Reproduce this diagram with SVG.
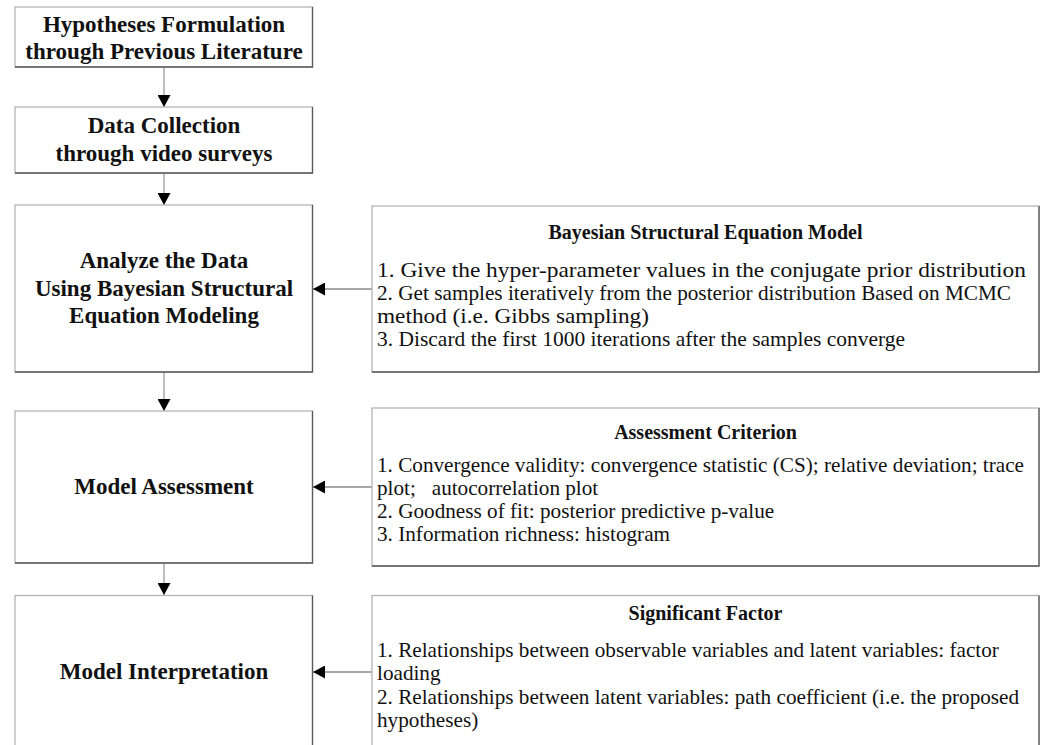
<svg xmlns="http://www.w3.org/2000/svg" width="1043" height="745" viewBox="0 0 1043 745">
<defs>
<style>
.box{fill:#fff;stroke:#b4b4b4;stroke-width:1.3}
.sh{fill:none;stroke:#5a5a5a;stroke-width:1.3}
.ttl{font-weight:bold;font-size:23px;fill:#111;text-anchor:middle}
.hd{font-weight:bold;font-size:20px;fill:#111;text-anchor:middle}
.it{font-size:21.2px;fill:#111}
.pal{font-size:21.5px;fill:#111}
.con{stroke:#a8a8a8;stroke-width:1.5;fill:none}
.conh{stroke:#8a8a8a;stroke-width:1.3;fill:none}
</style>
<marker id="ah" markerUnits="userSpaceOnUse" markerWidth="13" markerHeight="13" refX="12" refY="6.5" orient="auto">
<path d="M0,0 L12,6.5 L0,13 Z" fill="#000"/>
</marker>
</defs>
<rect width="1043" height="745" fill="#fff"/>
<g id="connectors">
<line class="con" x1="164" y1="67" x2="164" y2="107" marker-end="url(#ah)"/>
<line class="con" x1="164" y1="173" x2="164" y2="205" marker-end="url(#ah)"/>
<line class="con" x1="164" y1="372" x2="164" y2="411" marker-end="url(#ah)"/>
<line class="con" x1="164" y1="563" x2="164" y2="595" marker-end="url(#ah)"/>
<line class="conh" x1="372" y1="289" x2="313" y2="289" marker-end="url(#ah)"/>
<line class="conh" x1="372" y1="487" x2="313" y2="487" marker-end="url(#ah)"/>
<line class="conh" x1="372" y1="672" x2="313" y2="672" marker-end="url(#ah)"/>
</g>
<g font-family="Liberation Serif, Times New Roman, Times, serif">
<g id="hypotheses">
<rect class="box" x="15" y="7" width="297.5" height="60"/>
<path class="sh" d="M312.5,7 V67 H15"/>
<text class="ttl" x="164" y="32">Hypotheses Formulation</text>
<text class="ttl" x="164" y="59">through Previous Literature</text>
</g>
<g id="data-collection">
<rect class="box" x="15" y="107" width="297.5" height="66"/>
<path class="sh" d="M312.5,107 V173 H15"/>
<text class="ttl" x="164" y="133">Data Collection</text>
<text class="ttl" x="164" y="161">through video surveys</text>
</g>
<g id="analyze">
<rect class="box" x="15" y="205" width="297.5" height="167"/>
<path class="sh" d="M312.5,205 V372 H15"/>
<text class="ttl" x="164" y="268">Analyze the Data</text>
<text class="ttl" x="164" y="296">Using Bayesian Structural</text>
<text class="ttl" x="164" y="323">Equation Modeling</text>
</g>
<g id="assessment">
<rect class="box" x="15" y="411" width="297.5" height="152"/>
<path class="sh" d="M312.5,411 V563 H15"/>
<text class="ttl" x="164" y="494">Model Assessment</text>
</g>
<g id="interpretation">
<rect class="box" x="15" y="595.5" width="297.5" height="160"/>
<path class="sh" d="M312.5,595.5 V755"/>
<text class="ttl" x="164" y="679">Model Interpretation</text>
</g>
<g id="bsem">
<rect class="box" x="372" y="206" width="667" height="166"/>
<path class="sh" d="M1039,206 V372 H372"/>
<text class="hd" x="705.5" y="239">Bayesian Structural Equation Model</text>
<text class="pal" x="377" y="277" textLength="649" lengthAdjust="spacingAndGlyphs">1. Give the hyper-parameter values in the conjugate prior distribution</text>
<text class="pal" x="377" y="300" textLength="634" lengthAdjust="spacingAndGlyphs">2. Get samples iteratively from the posterior distribution Based on MCMC</text>
<text class="pal" x="377" y="323" textLength="272" lengthAdjust="spacingAndGlyphs">method (i.e. Gibbs sampling)</text>
<text class="pal" x="377" y="346" textLength="528" lengthAdjust="spacingAndGlyphs">3. Discard the first 1000 iterations after the samples converge</text>
</g>
<g id="criterion">
<rect class="box" x="372" y="408" width="667" height="158"/>
<path class="sh" d="M1039,408 V566 H372"/>
<text class="hd" x="705.5" y="439">Assessment Criterion</text>
<text class="it" x="377" y="472">1. Convergence validity: convergence statistic (CS); relative deviation; trace</text>
<text class="it" x="377" y="495" xml:space="preserve">plot;   autocorrelation plot</text>
<text class="it" x="377" y="518">2. Goodness of fit: posterior predictive p-value</text>
<text class="it" x="377" y="541">3. Information richness: histogram</text>
</g>
<g id="factor">
<rect class="box" x="372" y="595.5" width="667" height="160"/>
<path class="sh" d="M1039,595.5 V755"/>
<text class="hd" x="705.5" y="620">Significant Factor</text>
<text class="it" x="377" y="657">1. Relationships between observable variables and latent variables: factor</text>
<text class="it" x="377" y="680">loading</text>
<text class="it" x="377" y="704">2. Relationships between latent variables: path coefficient (i.e. the proposed</text>
<text class="it" x="377" y="727">hypotheses)</text>
</g>
</g>
</svg>
